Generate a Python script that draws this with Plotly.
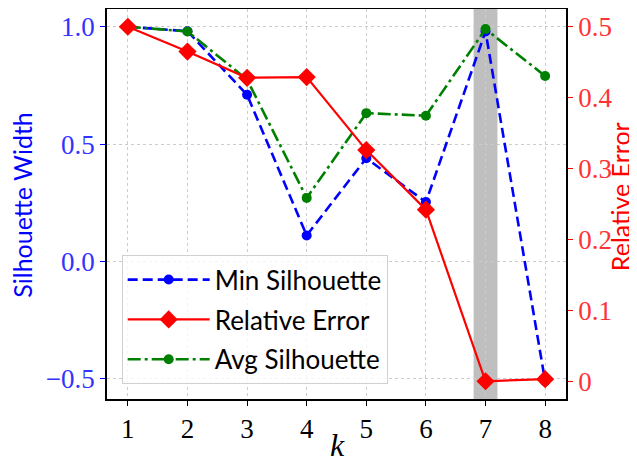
import plotly.graph_objects as go

k = [1, 2, 3, 4, 5, 6, 7, 8]
min_sil = [1.0, 0.981, 0.71, 0.111, 0.44, 0.253, 0.98, -0.51]
avg_sil = [1.0, 0.98, 0.775, 0.271, 0.632, 0.621, 0.99, 0.79]
rel_err = [0.5, 0.465, 0.428, 0.429, 0.326, 0.242, 0.0, 0.003]
x_ticks = [1, 2, 3, 4, 5, 6, 7, 8]
left_ticks = [-0.5, 0.0, 0.5, 1.0]
left_tick_text = ["\u22120.5", "0.0", "0.5", "1.0"]
right_ticks = [0.0, 0.1, 0.2, 0.3, 0.4, 0.5]
highlight = [6.8, 7.2]

SERIF = "Liberation Serif"
SANS = "Lato"

fig = go.Figure()
fig.add_trace(go.Scatter(
    x=k, y=min_sil, name="Min Silhouette", mode="lines+markers",
    line=dict(color="#0000ff", width=2.6, dash="10px,5px"),
    marker=dict(symbol="circle", size=10, color="#0000ff"),
    legendrank=1, legendgroup="a", yaxis="y"))
fig.add_trace(go.Scatter(
    x=k, y=avg_sil, name="Avg Silhouette", mode="lines+markers",
    line=dict(color="#008000", width=2.6, dash="13px,4px,3px,4px"),
    marker=dict(symbol="circle", size=10, color="#008000"),
    legendrank=3, legendgroup="c", yaxis="y"))
fig.add_trace(go.Scatter(
    x=k, y=rel_err, name="Relative Error", mode="lines+markers",
    line=dict(color="#ff0000", width=2.2),
    marker=dict(symbol="diamond", size=14, color="#ff0000"),
    legendrank=2, legendgroup="b", yaxis="y2"))

fig.add_shape(type="rect", xref="x", yref="paper",
              x0=highlight[0], x1=highlight[1], y0=0, y1=1,
              fillcolor="#bfbfbf", line=dict(width=0), layer="between")

fig.add_annotation(text="Silhouette Width", xref="paper", yref="paper",
                   x=-0.184, y=0.497, xanchor="center", yanchor="middle",
                   textangle=-90, showarrow=False, borderpad=0,
                   font=dict(family=SANS, size=25, color="#0000ff"))
fig.add_annotation(text="Relative Error", xref="paper", yref="paper",
                   x=1.118, y=0.518, xanchor="center", yanchor="middle",
                   textangle=-90, showarrow=False, borderpad=0,
                   font=dict(family=SANS, size=25, color="#ff0000"))
fig.add_annotation(text="<i>k</i>", xref="paper", yref="paper",
                   x=0.503, y=-0.118, xanchor="center", yanchor="middle",
                   showarrow=False, borderpad=0,
                   font=dict(family=SERIF, size=32, color="black"))

# page has an 8px body margin, so the figure is 8px smaller and shifted
fig.update_layout(
    width=629, height=452,
    margin=dict(l=99, r=71, t=1, b=61, autoexpand=False),
    plot_bgcolor="white", paper_bgcolor="white",
    showlegend=True,
    legend=dict(
        x=0.032, y=0.038, xanchor="left", yanchor="bottom",
        bgcolor="rgba(255,255,255,0.8)", bordercolor="#d0d0d0", borderwidth=1,
        font=dict(family=SANS, size=26, color="black"),
        itemwidth=82, tracegroupgap=3,
    ),
    xaxis=dict(
        range=[0.65, 8.35], tickvals=x_ticks, automargin=False,
        showgrid=True, gridcolor="#cccccc", griddash="dot", gridwidth=0.8,
        showline=True, linecolor="black", linewidth=1.5, mirror=True,
        ticks="outside", ticklen=5, tickcolor="black",
        tickfont=dict(family=SERIF, size=27, color="black"),
        zeroline=False,
    ),
    yaxis=dict(
        range=[-0.5855, 1.0755], tickvals=left_ticks, ticktext=left_tick_text,
        automargin=False,
        showgrid=True, gridcolor="#cccccc", griddash="dot", gridwidth=0.8,
        showline=True, linecolor="black", linewidth=1.5,
        ticks="outside", ticklen=5, tickcolor="#0000ff",
        tickfont=dict(family=SERIF, size=27, color="#3333ff"),
        zeroline=False,
    ),
    yaxis2=dict(
        range=[-0.025, 0.525], tickvals=right_ticks, automargin=False,
        overlaying="y", side="right", showgrid=False,
        showline=True, linecolor="black", linewidth=1.5,
        ticks="outside", ticklen=5, tickcolor="#ff0000",
        tickfont=dict(family=SERIF, size=27, color="#ff3333"),
        zeroline=False,
    ),
)

fig.write_html("out.html")
